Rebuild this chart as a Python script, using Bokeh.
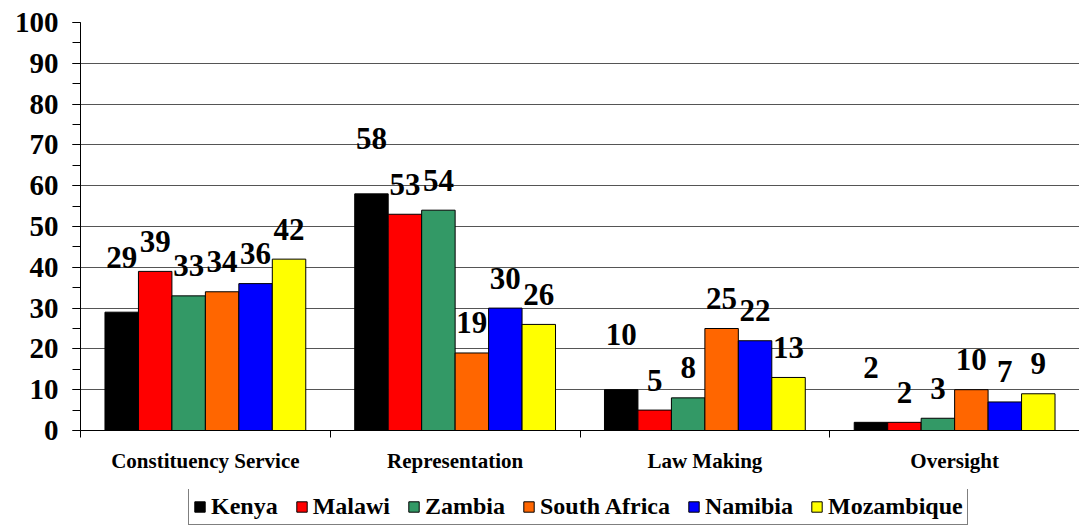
from bokeh.plotting import figure
from bokeh.layouts import column
from bokeh.models import (Range1d, FixedTicker, SingleIntervalTicker, Legend,
                          LegendItem, ColumnDataSource)
from bokeh.embed import file_html
from bokeh.resources import INLINE
from bokeh.core.properties import value

# ---------------- data ----------------
categories = ["Constituency Service", "Representation", "Law Making", "Oversight"]
countries = ["Kenya", "Malawi", "Zambia", "South Africa", "Namibia", "Mozambique"]
kenya = [29, 58, 10, 2]
malawi = [39, 53, 5, 2]
zambia = [33, 54, 8, 3]
south_africa = [34, 19, 25, 10]
namibia = [36, 30, 22, 7]
mozambique = [42, 26, 13, 9]
y_min, y_max, y_step = 0, 100, 10

series = [kenya, malawi, zambia, south_africa, namibia, mozambique]

# ---------------- style ----------------
colors = ["#000000", "#FF0000", "#339966", "#FF6600", "#0000FF", "#FFFF00"]
label_lift = [55, 30, 30, 30, 30, 30]  # px above bar top for value labels
FONT = "Liberation Serif"
bar_w = 0.134

n_cat = len(categories)
p = figure(frame_width=999, frame_height=408,
           x_range=Range1d(0, n_cat), y_range=Range1d(y_min, y_max),
           output_backend="svg", toolbar_location=None,
           min_border_left=80, min_border_right=0, min_border_top=22,
           min_border_bottom=59)
p.outline_line_color = None
p.background_fill_color = "white"
p.border_fill_color = "white"

# y axis
yt = SingleIntervalTicker(interval=y_step, num_minor_ticks=2)
p.yaxis.ticker = yt
p.ygrid.ticker = yt
p.ygrid.grid_line_color = "#555555"
p.ygrid.grid_line_width = 1
p.yaxis.axis_line_color = "black"
p.yaxis.major_tick_out = 8
p.yaxis.major_tick_in = 0
p.yaxis.minor_tick_out = 8
p.yaxis.minor_tick_in = 0
p.yaxis.major_tick_line_color = "black"
p.yaxis.minor_tick_line_color = "black"
p.yaxis.major_label_standoff = 14
p.yaxis.major_label_text_font = FONT
p.yaxis.major_label_text_font_style = "bold"
p.yaxis.major_label_text_font_size = "29px"
p.yaxis.major_label_text_color = "black"

# x axis
centers = [i + 0.5 for i in range(n_cat)]
bounds = [float(i) for i in range(n_cat + 1)]
p.xaxis.ticker = FixedTicker(ticks=centers, minor_ticks=bounds)
p.xaxis.major_label_overrides = {c: name for c, name in zip(centers, categories)}
p.xgrid.visible = False
p.xaxis.axis_line_color = "black"
p.xaxis.major_tick_line_color = None
p.xaxis.major_tick_out = 0
p.xaxis.major_tick_in = 0
p.xaxis.minor_tick_out = 7
p.xaxis.minor_tick_in = 0
p.xaxis.minor_tick_line_color = "black"
p.xaxis.major_label_standoff = 11
p.xaxis.major_label_text_font = FONT
p.xaxis.major_label_text_font_style = "bold"
p.xaxis.major_label_text_font_size = "21px"
p.xaxis.major_label_text_color = "black"

# legend strip (separate figure so the legend is not clipped)
lg = figure(width=1079, height=36, output_backend="svg", toolbar_location=None,
            x_axis_type=None, y_axis_type=None, min_border=0,
            x_range=Range1d(0, 1), y_range=Range1d(0, 1))
lg.outline_line_color = None
lg.xgrid.visible = False
lg.ygrid.visible = False

items = []
for j, (name, vals, col) in enumerate(zip(countries, series, colors)):
    xs = [i + 0.5 + (j - (len(series) - 1) / 2) * bar_w for i in range(n_cat)]
    src = ColumnDataSource(dict(x=xs, top=vals, label=[str(v) for v in vals]))
    p.vbar(x="x", top="top", bottom=0, width=bar_w, source=src,
           fill_color=col, line_color="black", line_width=1)
    p.text(x="x", y="top", text="label", source=src, y_offset=-label_lift[j],
           text_align="center", text_baseline="alphabetic",
           text_font=value(FONT), text_font_style="bold",
           text_font_size="31px", text_color="black")
    rl = lg.vbar(x="x", top="top", bottom=0, width=bar_w, source=src,
                 fill_color=col, line_color="black", line_width=1,
                 visible=False)
    items.append(LegendItem(label=name, renderers=[rl]))

legend = Legend(items=items, orientation="horizontal", location=(108, 0),
                label_text_font=FONT, label_text_font_style="bold",
                label_text_font_size="24px", label_text_color="black",
                glyph_width=13, glyph_height=13, label_standoff=5,
                spacing=17, padding=4, margin=0,
                border_line_color="black", border_line_width=1,
                background_fill_color="white", background_fill_alpha=1)
lg.add_layout(legend, "center")

layout = column(p, lg, spacing=0)
open("out.html", "w").write(file_html(layout, INLINE))
